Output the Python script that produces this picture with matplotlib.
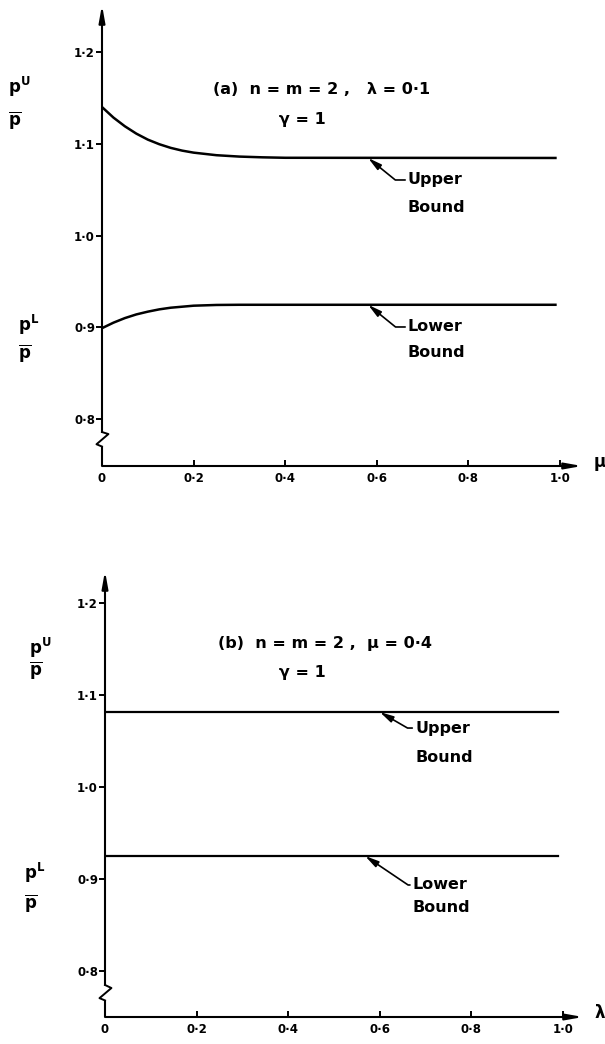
import matplotlib
matplotlib.use('Agg')
import matplotlib.pyplot as plt

plt.rcParams['font.family'] = ['DejaVu Sans']
plt.rcParams['mathtext.fontset'] = 'dejavusans'

# (a) bounds against mu, lambda = 0.1
mu_upper = [0, 0.025, 0.05, 0.075, 0.1, 0.125, 0.15, 0.175, 0.2, 0.25, 0.3, 0.35, 0.4, 0.99]
p_upper_a = [1.140, 1.1285, 1.119, 1.111, 1.1045, 1.0995, 1.0955, 1.0925, 1.0903,
             1.0875, 1.0860, 1.0852, 1.0847, 1.0845]
mu_lower = [0, 0.025, 0.05, 0.075, 0.1, 0.125, 0.15, 0.2, 0.25, 0.3, 0.99]
p_lower_a = [0.899, 0.905, 0.910, 0.914, 0.917, 0.9195, 0.9213, 0.9235, 0.9243,
             0.9245, 0.9245]

# (b) bounds against lambda, mu = 0.4
lam = [0, 0.99]
p_upper_b = [1.0815, 1.0815]
p_lower_b = [0.925, 0.925]

yticks = [0.8, 0.9, 1.0, 1.1, 1.2]
ytick_labels = ['0·8', '0·9', '1·0', '1·1', '1·2']
xticks = [0, 0.2, 0.4, 0.6, 0.8, 1.0]
xtick_labels = ['0', '0·2', '0·4', '0·6', '0·8', '1·0']

fs = 11.5
bold = 'bold'


def frame(ax, xmax, ymin, ymax, brk, xname):
    ax.set_xlim(0, xmax)
    ax.set_ylim(ymin, ymax)
    for s in ax.spines.values():
        s.set_visible(False)
    ax.set_yticks(yticks)
    ax.set_yticklabels(ytick_labels)
    ax.set_xticks(xticks)
    ax.set_xticklabels(xtick_labels)
    ax.tick_params(axis='y', direction='out', length=4, width=1.4, pad=1,
                   labelsize=8.5)
    ax.tick_params(axis='x', direction='in', length=4, width=1.4, pad=4,
                   labelsize=8.5)
    for lab in ax.get_xticklabels() + ax.get_yticklabels():
        lab.set_fontweight(bold)
    # y axis with break
    y1, y2, y3, y4 = brk
    ax.plot([0, 0], [ymin, y4], color='k', lw=1.5, clip_on=False,
            solid_capstyle='butt')
    ax.plot([0, 0.014, -0.012, 0], [y1, y2, y3, y4], color='k', lw=1.4,
            clip_on=False)
    ax.annotate('', xy=(0, ymax), xytext=(0, y1),
                arrowprops=dict(arrowstyle='-|>,head_length=1.0,head_width=0.18',
                                color='k', lw=1.5, shrinkA=0, shrinkB=0),
                annotation_clip=False)
    ax.annotate('', xy=(xmax, ymin), xytext=(0, ymin),
                arrowprops=dict(arrowstyle='-|>,head_length=1.0,head_width=0.18',
                                color='k', lw=1.5, shrinkA=0, shrinkB=0),
                annotation_clip=False)
    ax.text(xmax + 0.025, ymin + 0.004, xname, fontsize=12, ha='left',
            va='center', fontweight=bold)


def leader(ax, xy, xytext, ang, word):
    ax.annotate(word, xy=xy, xytext=xytext, fontsize=fs, fontweight=bold,
                ha='left', va='center',
                arrowprops=dict(arrowstyle='-|>,head_length=0.7,head_width=0.17',
                                color='k', lw=1.2, shrinkA=2, shrinkB=0,
                                patchA=None, relpos=(0, 0.5),
                                connectionstyle='angle,angleA=0,angleB=%d,rad=0' % ang))


def ylab(ax, x, y_num, y_den, sup):
    ax.text(x, y_num, r'p$^{\mathbf{%s}}$' % sup, fontsize=12, fontweight=bold,
            ha='left', va='center')
    ax.text(x, y_den, r'$\overline{\mathbf{p}}$', fontsize=12, ha='left',
            va='center')


fig = plt.figure(figsize=(6.05, 10.44), dpi=100)

ax1 = fig.add_axes([102 / 605, 578 / 1044, 480 / 605, 461 / 1044])
ax1.plot(mu_upper, p_upper_a, color='k', lw=1.8)
ax1.plot(mu_lower, p_lower_a, color='k', lw=1.8)
frame(ax1, 1.048, 0.7488, 1.2512, (0.7858, 0.7836, 0.7725, 0.7700), 'μ')
ax1.text(0.242, 1.1586, '(a)  n = m = 2 ,   λ = 0·1', fontsize=fs,
         fontweight=bold, ha='left', va='center')
ax1.text(0.437, 1.1259, 'γ = 1', fontsize=fs, fontweight=bold, ha='center',
         va='center')
leader(ax1, (0.581, 1.0845), (0.668, 1.0605), -39, 'Upper')
ax1.text(0.668, 1.030, 'Bound', fontsize=fs, fontweight=bold, ha='left',
         va='center')
leader(ax1, (0.581, 0.9245), (0.668, 0.9003), -39, 'Lower')
ax1.text(0.668, 0.873, 'Bound', fontsize=fs, fontweight=bold, ha='left',
         va='center')
ylab(ax1, -0.205, 1.162, 1.126, 'U')
ylab(ax1, -0.183, 0.9025, 0.872, 'L')

ax2 = fig.add_axes([105 / 605, 27 / 1044, 478 / 605, 446 / 1044])
ax2.plot(lam, p_upper_b, color='k', lw=1.6)
ax2.plot(lam, p_lower_b, color='k', lw=1.6)
frame(ax2, 1.0437, 0.75, 1.2348, (0.7848, 0.7815, 0.7705, 0.7680), 'λ')
ax2.text(0.247, 1.1565, '(b)  n = m = 2 ,  μ = 0·4', fontsize=fs,
         fontweight=bold, ha='left', va='center')
ax2.text(0.430, 1.125, 'γ = 1', fontsize=fs, fontweight=bold, ha='center',
         va='center')
leader(ax2, (0.600, 1.0815), (0.677, 1.0641), -30, 'Upper')
ax2.text(0.677, 1.0326, 'Bound', fontsize=fs, fontweight=bold, ha='left',
         va='center')
leader(ax2, (0.568, 0.925), (0.672, 0.8935), -34, 'Lower')
ax2.text(0.672, 0.8685, 'Bound', fontsize=fs, fontweight=bold, ha='left',
         va='center')
ylab(ax2, -0.165, 1.151, 1.127, 'U')
ylab(ax2, -0.176, 0.9065, 0.874, 'L')

fig.savefig('out.png', dpi=100)
